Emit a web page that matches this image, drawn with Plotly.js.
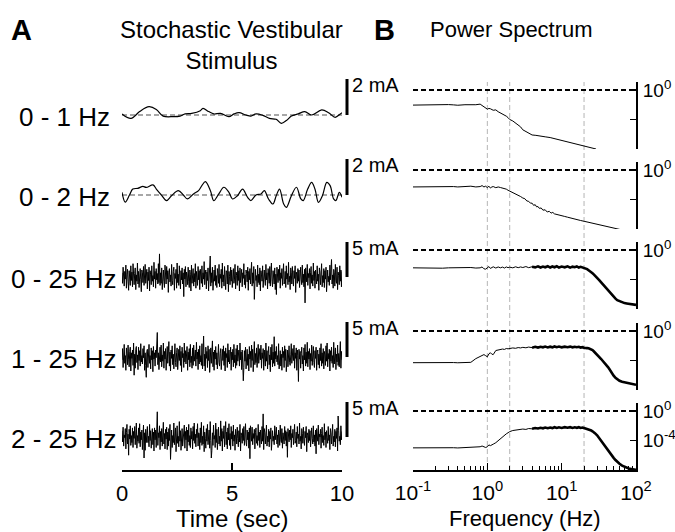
<!DOCTYPE html>
<html><head><meta charset="utf-8">
<script src="https://cdn.plot.ly/plotly-3.0.1.min.js"></script>
<style>html,body{margin:0;padding:0;background:#fff}#chart{width:675px;height:532px}</style>
</head><body><div id="chart"></div>
<script>
// ---------------- DATA ----------------
const channelLabels = ['0 - 1 Hz', '0 - 2 Hz', '0 - 25 Hz', '1 - 25 Hz', '2 - 25 Hz'];
const scaleBars = [2, 2, 5, 5, 5];           // mA
const scaleUnit = 'mA';
const timeTicks = [0, 5, 10];
const noiseDuration = 10;                    // sec

// 0 - 1 Hz stimulus (mA)
const smoothTime1 = [0.00,0.41,0.80,1.23,1.56,1.87,2.33,2.64,2.87,3.17,3.56,3.68,3.94,4.17,4.48,4.86,5.09,5.32,5.63,5.86,6.09,6.40,6.70,7.01,7.24,7.47,7.70,8.01,8.31,8.62,9.08,9.39,9.69,9.92,10.0];
const smooth1 = [0.06,-0.19,0.19,0.46,0.31,-0.06,-0.09,-0.06,0.06,0.09,0.24,0.37,0.19,0.06,0.09,-0.09,0.06,0.13,0.00,-0.06,0.06,-0.02,-0.19,-0.24,-0.46,-0.31,-0.06,0.06,0.19,0.00,0.28,0.13,-0.13,0.06,0.13];

// 0 - 2 Hz stimulus (mA)
const smoothTime2 = [0.00,0.15,0.34,0.49,0.72,0.95,1.10,1.41,1.56,1.79,2.02,2.25,2.56,2.79,2.97,3.25,3.48,3.63,3.79,4.02,4.17,4.40,4.63,4.86,5.02,5.25,5.48,5.71,5.86,6.09,6.32,6.47,6.66,6.86,7.01,7.16,7.35,7.47,7.70,7.93,8.13,8.24,8.44,8.62,8.77,8.93,9.11,9.31,9.46,9.62,9.72,9.88,10.0];
const smooth2 = [0.15,-0.40,0.00,0.33,0.37,0.48,0.42,0.56,0.33,0.00,-0.31,-0.04,0.24,0.00,-0.22,0.06,0.24,0.52,0.74,0.24,-0.31,0.06,0.43,0.15,-0.22,-0.04,0.33,-0.13,-0.31,0.00,0.06,0.24,-0.22,-0.50,-0.04,0.33,-0.50,-0.69,-0.04,0.43,-0.22,-0.31,0.33,0.70,0.33,-0.41,-0.04,0.70,0.52,-0.22,-0.31,0.15,-0.13];

// 0 - 25 Hz stimulus (mA), evenly sampled over 10 s
const noise3 = [0.6,-0.9,1.4,0.2,-1.3,0.8,-0.3,1.7,-1.6,0.4,1.1,-0.7,-1.9,0.9,0.1,-1.2,1.6,-0.5,0.7,-1.4,
 1.9,-0.2,-1.1,0.5,1.3,-1.8,0.3,-0.6,2.0,-1.0,0.8,-1.5,0.2,1.2,-0.4,-2.1,1.0,0.6,-0.8,1.5,
 -1.2,0.4,1.8,-0.9,-0.2,1.1,-1.7,0.7,-0.5,1.4,-2.0,0.9,0.3,-1.1,1.6,-0.6,0.2,-1.4,2.1,-0.3,
 0.8,-1.6,1.2,-0.4,0.5,-1.0,1.9,-0.8,3.3,-1.2,0.6,-0.9,1.3,-1.8,0.4,1.0,-0.6,-1.5,1.7,-0.1,
 -1.0,1.5,-0.3,0.9,-2.2,0.6,1.2,-0.7,0.3,-1.3,1.8,-0.5,-1.1,0.8,1.4,-1.9,0.5,-0.2,1.1,-1.6,
 2.0,-0.8,0.4,-1.2,1.6,0.1,-1.7,0.9,-0.4,1.3,-1.0,0.6,-2.8,1.1,-0.3,1.5,-1.4,0.7,0.2,-1.1,
 1.4,-0.6,-1.5,1.0,0.4,-2.0,1.7,-0.9,0.3,1.2,-1.3,0.5,-0.7,1.9,-1.6,0.8,-0.1,-1.2,1.5,-0.4,
 0.9,-1.8,1.1,0.2,-0.9,1.6,-1.4,0.6,-0.3,2.2,-1.1,0.4,1.0,-1.7,0.7,-0.5,1.3,-2.0,0.5,1.1,
 3.0,-1.3,0.6,-0.8,1.4,-1.9,0.3,1.0,-0.6,1.7,-1.2,0.2,-1.5,1.2,0.5,-0.9,1.8,-1.4,0.4,-0.2,
 1.1,-1.6,2.0,-0.7,0.3,-1.3,1.5,-0.4,-1.8,0.9,0.6,-1.0,1.7,-2.1,0.8,0.1,-1.1,1.4,-0.6,1.0,
 -1.5,0.5,1.2,-0.9,-0.3,1.8,-1.7,0.7,0.2,-1.2,1.6,-0.5,0.9,-2.0,1.3,-0.8,0.4,1.1,-1.4,0.6,
 -0.2,1.9,-1.1,0.3,-1.6,1.0,0.5,-0.7,1.4,-1.9,0.8,-0.4,1.2,-1.0,0.1,2.1,-1.3,0.6,-0.9,1.5,
 -3.2,0.7,1.1,-0.5,0.2,-1.4,1.7,-0.8,0.4,-1.1,1.3,-2.0,0.9,0.3,-0.6,1.6,-1.5,0.5,1.0,-0.3,
 -1.2,1.8,-0.4,0.6,-1.7,1.2,-0.1,-0.9,1.5,-1.3,0.7,2.0,-0.6,-1.4,0.9,0.2,-1.0,1.3,-1.8,0.4,
 -2.5,1.4,0.3,-0.8,1.1,-0.5,1.7,-1.6,0.6,-0.2,1.2,-1.2,0.4,1.9,-1.0,-0.6,0.8,-1.5,1.6,-0.3,
 0.5,-1.1,2.1,-0.7,0.1,-1.8,1.3,0.6,-1.0,1.5,-0.4,-1.3,0.9,-0.2,1.6,-2.2,0.7,0.3,-0.9,1.2,
 -0.6,1.0,-1.5,0.8,1.4,-0.3,-1.1,1.7,-0.8,0.4,-1.4,1.1,-3.7,1.3,0.2,-0.7,1.8,-1.2,0.5,-0.1,
 1.2,-1.7,0.6,1.5,-0.9,0.3,-1.3,2.0,-0.5,0.8,-1.6,1.0,-0.2,-1.0,1.6,-0.6,0.4,-1.9,1.3,0.7,
 -1.1,0.5,1.9,-1.4,0.2,-0.8,1.2,-1.5,0.9,-0.3,1.4,-2.1,0.6,1.0,-0.7,0.1,-1.2,1.7,-0.4,0.8,
 2.5,-1.0,0.3,-1.6,1.1,0.6,-1.3,1.8,-0.5,-0.9,1.4,-1.8,0.7,0.2,-1.1,1.6,-0.6,1.0,-1.4,0.8];

// 1 - 25 Hz stimulus (mA)
const noise4 = [-0.4,1.2,-1.5,0.7,1.8,-0.9,0.2,-1.9,1.3,0.5,-1.1,1.7,-0.3,-1.4,0.8,1.4,-2.0,0.6,-0.2,1.0,
 -1.2,2.0,-2.6,0.4,-1.6,1.1,1.5,-0.8,0.3,-1.8,1.4,-0.5,0.9,-1.3,1.9,-0.7,0.2,-1.0,1.2,-0.1,
 1.6,-1.9,0.6,-1.2,-2.9,0.8,1.1,-1.5,0.7,1.8,-0.9,0.2,-1.7,1.3,-0.4,0.9,-2.1,1.5,-0.3,0.6,
 -1.3,1.0,-0.1,2.1,3.5,-1.1,0.6,-1.8,0.5,1.4,-0.7,1.7,-1.4,0.3,-0.6,2.0,-1.6,0.8,-0.3,1.2,
 -1.9,0.6,1.5,-0.9,0.2,2.2,-1.3,0.7,-2.0,1.0,-0.2,1.6,-1.1,0.4,-1.7,0.9,1.9,-0.8,-1.4,0.6,
 1.3,-1.8,0.4,1.1,-0.5,1.6,-1.2,0.8,-2.1,1.4,-0.1,0.5,-1.5,2.0,-0.7,0.9,-1.0,0.3,1.5,-1.9,
 0.7,-0.4,1.2,-1.4,1.8,-0.8,0.1,-1.6,1.3,-1.2,1.7,-0.6,0.5,1.0,-1.3,2.1,-0.3,0.7,-1.8,1.1,
 -1.0,1.6,-0.7,0.2,-1.2,1.9,-1.7,0.6,3.0,-1.3,0.4,-2.0,1.4,-0.2,0.8,-1.5,1.6,-0.5,1.1,-2.2,
 0.4,1.3,-0.9,0.1,2.3,-1.4,0.7,-1.9,1.0,-0.3,1.5,-1.1,0.6,-1.7,0.9,1.8,-0.8,-1.3,0.5,1.2,
 -1.8,0.2,1.1,-0.5,1.6,-1.2,0.8,-2.0,1.3,-0.1,0.5,-1.5,1.9,-0.7,1.0,-1.0,0.3,1.4,-1.9,0.7,
 -0.4,1.1,-1.4,1.8,-0.8,0.3,-1.6,1.2,-1.2,1.7,-0.6,0.5,1.0,-1.3,2.0,-0.4,0.7,-1.8,1.0,-1.0,
 -3.4,-1.5,0.9,-0.6,1.4,-1.7,0.6,1.1,-1.2,0.4,-2.0,1.5,-0.3,0.8,-1.5,1.7,-0.5,1.1,-2.1,0.3,
 2.2,-1.1,0.5,-0.8,1.3,-1.5,0.2,1.8,-0.9,0.6,1.2,-0.4,1.7,-1.6,0.6,-0.2,1.2,-1.9,1.0,0.2,
 -1.3,2.0,-0.6,0.9,-1.7,0.5,1.5,-1.1,0.3,-2.1,1.4,-0.4,1.8,-1.4,0.7,-0.9,2.9,-1.3,0.8,-0.3,
 1.5,-0.7,0.2,-1.1,1.9,-1.7,0.6,0.9,-1.3,0.4,-1.9,1.4,-0.1,0.8,-1.5,1.6,-0.5,1.1,-2.1,0.3,
 1.0,-1.4,0.6,1.6,-0.8,-1.2,0.3,1.9,-0.9,0.7,1.2,-0.5,1.7,-1.6,0.6,-0.2,1.3,-1.9,1.0,0.2,
 -3.5,1.1,-0.3,0.8,-1.6,0.5,1.4,-1.0,0.2,-2.0,1.3,-0.4,1.8,-1.3,0.7,-0.9,2.1,-1.4,0.8,-0.3,
 1.2,-1.8,0.5,-0.6,1.7,-1.2,0.3,1.5,-0.8,-1.5,0.9,-0.2,1.4,-1.9,0.6,1.0,-1.1,0.4,-1.6,1.3,
 -0.5,1.9,-1.3,0.6,-0.9,1.2,-1.7,0.8,0.3,-1.2,1.6,-0.6,2.0,-1.4,0.5,-0.3,1.1,-2.0,0.9,-0.6,
 1.4,-0.9,0.2,-1.5,2.1,-1.0,0.7,1.3,-1.8,0.4,-0.7,1.7,-1.2,0.5,-1.4,1.0,2.2,-1.6,0.8,-0.4];

// 2 - 25 Hz stimulus (mA)
const noise5 = [0.9,-0.7,1.4,-1.3,0.3,-0.1,1.2,-1.7,0.6,1.8,-1.0,0.4,-2.6,1.1,-0.3,1.6,-1.2,0.2,-0.8,1.3,
 -1.5,0.8,-0.2,1.5,-1.1,0.5,2.0,-1.6,0.2,-0.6,1.3,-0.9,1.9,-1.4,0.7,-0.4,1.0,-1.8,0.3,1.7,
 -3.0,0.6,-1.9,1.1,-0.8,0.4,1.5,-0.8,0.1,-1.4,1.8,-0.5,0.9,-1.6,0.3,1.2,-1.1,0.7,-2.0,1.3,
 -0.4,1.0,-1.5,0.2,3.6,-1.2,0.6,-0.1,1.6,-1.8,0.8,-0.7,1.2,-1.3,0.1,2.1,-1.0,0.5,-1.7,1.1,
 -0.3,1.4,-1.8,0.7,-1.3,1.2,-0.5,1.8,-3.2,0.4,1.0,-1.5,0.2,-0.8,2.0,-1.1,0.6,1.3,-2.1,0.3,
 1.6,-0.9,0.1,-1.4,2.2,-0.6,0.9,-1.9,0.5,1.2,-1.3,0.3,-0.2,1.7,-1.6,0.8,-0.4,1.4,-2.0,1.0,
 -0.7,1.8,-1.2,0.2,-1.5,1.3,-0.3,0.8,-1.7,1.5,-0.5,2.0,-0.9,0.4,-1.4,1.1,-0.1,1.9,-1.3,0.6,
 0.5,-1.8,1.3,-0.8,2.1,-1.2,0.1,-1.0,1.6,-2.1,0.7,-0.2,-1.6,1.2,-0.6,1.8,-1.1,0.4,1.0,-1.6,
 2.2,-0.5,-3.0,-1.9,0.6,-1.2,1.7,-0.3,0.2,-1.5,2.0,-0.8,1.1,-1.8,0.5,1.4,-1.0,0.1,-1.3,2.3,
 -0.6,1.2,-2.0,0.8,-0.2,1.6,-1.4,0.4,2.2,-1.1,0.7,-1.7,1.3,-0.4,1.9,-1.2,0.5,-1.8,1.5,-0.3,
 0.8,-1.3,1.7,-0.6,0.3,-1.9,1.1,0.5,-1.0,1.4,-0.2,-1.4,0.9,-0.7,1.8,-2.0,0.6,0.2,-0.9,1.2,
 -0.5,1.5,-1.2,0.4,1.9,-0.8,-1.3,1.0,-0.4,0.7,-1.6,1.3,-3.1,1.6,0.1,-0.6,1.4,-1.1,0.5,-0.2,
 1.1,-1.7,0.6,1.3,-0.9,0.2,-1.2,1.8,-0.5,0.7,-1.5,1.0,-0.3,-1.0,1.5,-0.6,3.3,-1.8,1.2,0.6,
 -1.0,0.4,1.7,-1.3,0.1,-0.7,1.1,-1.4,0.8,-0.3,1.3,-1.9,0.5,0.9,-0.6,0.1,-1.1,1.6,-0.4,0.7,
 1.4,-1.0,0.3,-1.5,1.0,0.5,-1.2,1.7,-0.4,-0.8,1.2,-1.6,0.6,0.1,-1.0,1.5,-0.5,0.9,-1.3,0.7,
 -2.9,1.2,0.2,-0.7,1.0,-0.4,1.6,-1.5,0.5,-0.1,1.1,-1.1,0.3,1.8,-0.9,-0.5,0.7,-1.4,1.5,-0.2,
 0.4,-1.0,2.0,-0.6,0.1,-1.7,1.2,0.5,-0.9,1.4,-0.3,-1.2,0.8,-0.1,1.5,-2.1,0.6,0.2,-0.8,1.1,
 -0.5,0.9,-1.4,0.7,1.3,-0.2,-1.0,1.6,-0.7,0.3,-1.3,1.0,-2.4,1.2,0.1,-0.6,1.7,-1.1,0.4,0.0,
 1.1,-1.6,0.5,1.4,-0.8,0.2,-1.2,1.9,-0.4,0.7,-1.5,0.9,-0.1,-0.9,1.5,-0.5,0.3,-1.8,1.2,0.6,
 -1.0,0.4,1.8,-1.3,0.1,-0.7,1.1,-1.4,0.8,-0.2,1.3,-2.0,3.0,0.9,-0.6,0.1,-1.1,1.6,-0.4,0.8];

// Power spectra: frequency (Hz) and log10(power)
const freq1 = [0.1,0.13,0.16,0.2,0.25,0.3,0.35,0.4,0.5,0.6,0.7,0.8,0.85,0.9,0.95,1.0,1.05,1.1,1.2,1.3,1.4,1.5,1.6,1.7,1.8,1.9,2.0,2.2,2.4,2.6,2.8,3.0,3.3,3.6,4.0,4.5,5.0,5.5,6.0,7.0,8.0,9.0,10,11,12,14,16,18,20,22,25,28,29];
const logPow1 = [-2.05,-2.02,-2.04,-2.06,-2.03,-1.98,-2.02,-2.07,-2.0,-2.03,-2.0,-1.92,-2.1,-2.3,-2.35,-2.6,-2.5,-2.55,-2.75,-2.7,-2.95,-3.1,-3.25,-3.4,-3.55,-3.75,-4.0,-4.2,-4.5,-4.7,-5.0,-5.4,-5.6,-5.85,-6.1,-6.15,-6.25,-6.3,-6.35,-6.45,-6.6,-6.75,-6.85,-6.95,-7.05,-7.2,-7.35,-7.5,-7.6,-7.7,-7.8,-7.95,-8.0];

const freq2 = [0.1,0.13,0.16,0.2,0.25,0.3,0.35,0.4,0.5,0.6,0.7,0.8,0.85,0.9,0.95,1.0,1.05,1.1,1.15,1.2,1.3,1.4,1.5,1.6,1.7,1.8,1.9,2.0,2.2,2.4,2.6,2.8,3.0,3.2,3.4,3.6,3.8,4.0,4.2,4.4,4.6,4.8,5.0,5.3,5.6,6.0,6.4,6.8,7.2,7.6,8.0,8.5,9.0,10,11,12,14,16,18,20,23,26,30,35,40,45,50,56,63];
const logPow2 = [-2.3,-2.28,-2.32,-2.3,-2.27,-2.31,-2.25,-2.3,-2.28,-2.2,-2.3,-2.25,-2.12,-2.3,-2.2,-2.4,-2.2,-2.45,-2.3,-2.25,-2.4,-2.3,-2.38,-2.45,-2.5,-2.6,-2.75,-2.85,-3.05,-3.25,-3.4,-3.6,-3.8,-3.9,-4.2,-4.25,-4.5,-4.5,-4.8,-4.7,-5.0,-4.95,-5.2,-5.15,-5.45,-5.4,-5.7,-5.6,-5.85,-5.75,-5.95,-6.0,-6.1,-6.2,-6.3,-6.4,-6.6,-6.75,-6.85,-6.95,-7.1,-7.2,-7.35,-7.5,-7.65,-7.75,-7.85,-7.98,-8.1];

const freqFine = [0.1,0.13,0.16,0.2,0.25,0.3,0.35,0.4,0.5,0.6,0.7,0.8,0.85,0.9,0.95,1.0,1.05,1.1,1.15,1.2,1.3,1.4,1.5,1.6,1.7,1.8,1.9,2.0,2.2,2.4,2.6,2.8,3.0,3.3,3.6,4.0,4.4,4.8,5.2,5.6,6.0,6.5,7.0,7.5,8.0,8.6,9.2,10,11,12,13,14,15,16,17,18,19,20,21,22,23,24,25,26,27,28,30,32,34,36,38,40,42,44,47,50,53,56,60,65,70,75,80,90,100];
const logPow3 = [-2.42,-2.45,-2.4,-2.43,-2.47,-2.42,-2.4,-2.45,-2.43,-2.38,
 -2.45,-2.42,-2.3,-2.55,-2.6,-2.35,-2.25,-2.5,-2.4,-2.28,
 -2.45,-2.3,-2.42,-2.32,-2.45,-2.3,-2.4,-2.33,-2.42,-2.28,
 -2.4,-2.3,-2.38,-2.25,-2.4,-2.27,-2.36,-2.22,-2.38,-2.25,
 -2.35,-2.2,-2.38,-2.24,-2.34,-2.2,-2.38,-2.25,-2.35,-2.22,
 -2.4,-2.26,-2.34,-2.22,-2.38,-2.28,-2.36,-2.4,-2.5,-2.6,
 -2.75,-2.85,-3.0,-3.15,-3.3,-3.45,-3.75,-4.1,-4.4,-4.7,
 -5.0,-5.2,-5.5,-5.75,-6.1,-6.4,-6.6,-6.8,-6.95,-7.1,
 -7.2,-7.25,-7.3,-7.38,-7.45];
const logPow4 = [-4.3,-4.28,-4.32,-4.3,-4.27,-4.3,-4.28,-4.31,-4.27,-4.25,
 -3.75,-3.45,-3.3,-3.2,-3.35,-3.5,-3.1,-2.95,-3.15,-3.2,
 -2.65,-2.55,-2.5,-2.45,-2.5,-2.38,-2.42,-2.35,-2.3,-2.35,
 -2.25,-2.3,-2.22,-2.28,-2.18,-2.26,-2.15,-2.25,-2.14,-2.22,
 -2.12,-2.24,-2.13,-2.22,-2.1,-2.2,-2.12,-2.22,-2.13,-2.2,
 -2.12,-2.22,-2.14,-2.2,-2.15,-2.25,-2.2,-2.28,-2.25,-2.32,
 -2.35,-2.42,-2.5,-2.6,-2.75,-2.9,-3.2,-3.5,-3.8,-4.1,
 -4.35,-4.6,-4.9,-5.2,-5.7,-6.05,-6.35,-6.55,-6.75,-6.88,
 -6.95,-7.0,-7.05,-7.2,-7.3];
const logPow5 = [-5.0,-4.98,-5.02,-5.0,-4.97,-5.0,-4.98,-5.01,-4.97,-4.96,
 -4.95,-4.85,-4.75,-4.8,-4.95,-4.85,-4.6,-4.7,-4.55,-4.5,
 -4.3,-4.0,-3.75,-3.5,-3.3,-3.1,-2.95,-2.8,-2.65,-2.6,
 -2.55,-2.5,-2.45,-2.5,-2.38,-2.42,-2.32,-2.38,-2.28,-2.35,
 -2.25,-2.34,-2.24,-2.32,-2.2,-2.3,-2.22,-2.3,-2.2,-2.28,
 -2.2,-2.3,-2.22,-2.28,-2.2,-2.3,-2.25,-2.32,-2.38,-2.42,
 -2.5,-2.58,-2.65,-2.75,-2.85,-3.0,-3.3,-3.7,-4.1,-4.45,
 -4.8,-5.05,-5.35,-5.6,-6.0,-6.35,-6.65,-6.9,-7.15,-7.4,
 -7.55,-7.7,-7.8,-7.9,-7.98];

const cutoffFreqs = [1, 2, 20];              // Hz, grey dashed guides
const refPower = 1;                          // 10^0 dashed reference
const freqTickVals = [0.1, 1, 10, 100];
const freqTickText = ['10<sup>-1</sup>', '10<sup>0</sup>', '10<sup>1</sup>', '10<sup>2</sup>'];
const minorFreqTicks = [0.2,0.3,0.4,0.5,0.6,0.7,0.8,0.9,2,3,4,5,6,7,8,9,20,30,40,50,60,70,80,90];
const powerTickVals = [1, 1e-4, 1e-8];
const powerTickTextTop = ['10<sup>0</sup>', '', ''];
const powerTickTextBottom = ['10<sup>0</sup>', '10<sup>-4</sup>', ''];

// ---------------- LAYOUT HELPERS ----------------
const W = 675, H = 532;
const px = x => x / W;
const py = y => 1 - y / H;
const FONT = 'Liberation Sans, Arial, Helvetica, sans-serif';

const leftBase = [115, 195, 277, 357, 437];       // pixel baselines
const pxPerUnit = [18, 18, 7, 7, 7];               // px per mA
const halfH = 40;
const rightBottom = [149, 229, 309, 390, 470];
const rightH = 67;
const barX = 347;

const toPow = arr => arr.map(v => Math.pow(10, v));

const traces = [];
const yName = i => (i === 0 ? 'y' : 'y' + (i + 1));
const yKey = i => (i === 0 ? 'yaxis' : 'yaxis' + (i + 1));

// left traces
traces.push({x: smoothTime1, y: smooth1, xaxis: 'x', yaxis: yName(0), mode: 'lines',
  line: {color: '#000', width: 1.2, shape: 'spline', smoothing: 1}, hoverinfo: 'skip'});
traces.push({x: smoothTime2, y: smooth2, xaxis: 'x', yaxis: yName(1), mode: 'lines',
  line: {color: '#000', width: 1.2, shape: 'spline', smoothing: 1}, hoverinfo: 'skip'});
[noise3, noise4, noise5].forEach((arr, k) => {
  traces.push({y: arr, x0: 0, dx: noiseDuration / (arr.length - 1), xaxis: 'x', yaxis: yName(k + 2),
    mode: 'lines', line: {color: '#000', width: 1}, hoverinfo: 'skip'});
});

// right traces
const spectra = [[freq1, logPow1], [freq2, logPow2], [freqFine, logPow3], [freqFine, logPow4], [freqFine, logPow5]];
spectra.forEach(([f, lp], k) => {
  const ya = yName(k + 5);
  traces.push({x: f, y: toPow(lp), xaxis: 'x2', yaxis: ya, mode: 'lines',
    line: {color: '#000', width: 1}, hoverinfo: 'skip'});
  if (k >= 2) {
    const fx = [], fy = [];
    f.forEach((v, i) => { if (v >= 4) { fx.push(v); fy.push(Math.pow(10, lp[i])); } });
    traces.push({x: fx, y: fy, xaxis: 'x2', yaxis: ya, mode: 'lines',
      line: {color: '#000', width: 2.6}, hoverinfo: 'skip'});
  }
});

const layout = {
  width: W, height: H,
  margin: {l: 0, r: 0, t: 0, b: 0},
  paper_bgcolor: '#fff', plot_bgcolor: 'rgba(0,0,0,0)',
  showlegend: false,
  font: {family: FONT, color: '#000'},
  xaxis: {
    domain: [px(122), px(342)], range: [0, 10], anchor: 'free', position: py(470),
    showline: true, linewidth: 1.5, linecolor: '#000', showgrid: false, zeroline: false,
    ticks: 'inside', ticklen: 7, tickwidth: 1.5, tickcolor: '#000',
    tickvals: timeTicks, tickfont: {size: 22, family: FONT}, ticklabelstandoff: 3, fixedrange: true
  },
  xaxis2: {
    type: 'log', domain: [px(413), px(636)], range: [-1, 2], anchor: 'y10',
    showline: true, linewidth: 1.5, linecolor: '#000', showgrid: false, zeroline: false,
    ticks: 'inside', ticklen: 7, tickwidth: 1.5, tickcolor: '#000',
    tickvals: freqTickVals, ticktext: freqTickText, tickfont: {size: 21, family: FONT}, ticklabelstandoff: 3,
    minor: {tickvals: minorFreqTicks, ticks: 'inside', ticklen: 4, tickwidth: 1, tickcolor: '#000', showgrid: false},
    fixedrange: true
  },
  shapes: [],
  annotations: []
};

for (let i = 0; i < 5; i++) {
  const b = leftBase[i], r = halfH / pxPerUnit[i];
  layout[yKey(i)] = {domain: [py(b + halfH), py(b - halfH)], range: [-r, r], anchor: 'x',
    visible: false, fixedrange: true};
  // scale bar
  layout.shapes.push({type: 'line', xref: 'paper', yref: yName(i), x0: px(barX), x1: px(barX), y0: 0, y1: scaleBars[i],
    line: {color: '#000', width: 3}});
  layout.annotations.push({xref: 'paper', yref: yName(i), x: px(barX + 3), y: scaleBars[i], xanchor: 'left', yanchor: 'top',
    yshift: 7, text: scaleBars[i] + ' ' + scaleUnit, showarrow: false, font: {size: 20, family: FONT}});
  layout.annotations.push({xref: 'paper', yref: yName(i), x: px(64), y: 0, xanchor: 'center', yanchor: 'middle',
    yshift: -2, text: channelLabels[i], showarrow: false, font: {size: 26, family: FONT}});
}
// grey zero lines for the two low-pass panels
for (let i = 0; i < 2; i++) {
  layout.shapes.push({type: 'line', xref: 'x', yref: yName(i), x0: 0, x1: 10, y0: 0, y1: 0,
    line: {color: '#8a8a8a', width: 1.5, dash: '5px,3px'}, layer: 'below'});
}

for (let k = 0; k < 5; k++) {
  const bt = rightBottom[k];
  layout[yKey(k + 5)] = {
    type: 'log', range: [-8, 1.08], domain: [py(bt), py(bt - rightH)], anchor: 'x2', side: 'right',
    showline: true, linewidth: 2, linecolor: '#000', showgrid: false, zeroline: false,
    ticks: 'inside', ticklen: 6, tickwidth: 1.5, tickcolor: '#000',
    tickvals: powerTickVals, ticktext: k === 4 ? powerTickTextBottom : powerTickTextTop,
    tickfont: {size: 19, family: FONT}, ticklabelstandoff: 1, fixedrange: true
  };
  layout.shapes.push({type: 'line', xref: 'x2 domain', yref: yName(k + 5), x0: 0, x1: 1,
    y0: refPower, y1: refPower, line: {color: '#000', width: 2, dash: '5px,3px'}});
}
cutoffFreqs.forEach(f => {
  layout.shapes.push({type: 'line', xref: 'x2', yref: 'paper', x0: f, x1: f,
    y0: py(470), y1: py(rightBottom[0] - rightH), line: {color: '#b5b5b5', width: 1, dash: '5px,3px'}, layer: 'below'});
});

// titles and labels
layout.annotations.push(
  {xref: 'paper', yref: 'paper', x: px(9), y: py(30), xanchor: 'left', yanchor: 'middle', showarrow: false,
   text: '<b>A</b>', font: {size: 29, family: FONT}},
  {xref: 'paper', yref: 'paper', x: px(372), y: py(30), xanchor: 'left', yanchor: 'middle', showarrow: false,
   text: '<b>B</b>', font: {size: 29, family: FONT}},
  {xref: 'paper', yref: 'paper', x: px(232), y: py(45), xanchor: 'center', yanchor: 'middle', showarrow: false,
   text: 'Stochastic Vestibular<br>Stimulus', font: {size: 24, family: FONT}},
  {xref: 'paper', yref: 'paper', x: px(511), y: py(30), xanchor: 'center', yanchor: 'middle', showarrow: false,
   text: 'Power Spectrum', font: {size: 22, family: FONT}},
  {xref: 'paper', yref: 'paper', x: px(232), y: py(518), xanchor: 'center', yanchor: 'middle', showarrow: false,
   text: 'Time (sec)', font: {size: 24, family: FONT}},
  {xref: 'paper', yref: 'paper', x: px(525), y: py(518), xanchor: 'center', yanchor: 'middle', showarrow: false,
   text: 'Frequency (Hz)', font: {size: 22, family: FONT}}
);

Plotly.newPlot('chart', traces, layout, {staticPlot: true, displayModeBar: false});
</script>
</body></html>
